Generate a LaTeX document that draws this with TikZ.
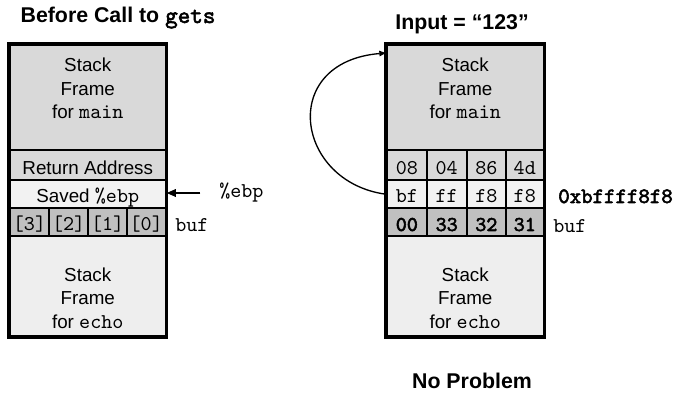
\documentclass[tikz,border=0pt]{standalone}
\usepackage{fontspec}
\setmainfont{Liberation Sans}
\setmonofont{lmmono10-regular}[Extension=.otf,Scale=1.12,BoldFont=lmmono10-regular,BoldFeatures={FakeBold=2.5}]
\newfontfamily\boldmono{lmmono10-regular}[Extension=.otf,Scale=1.12,FakeBold=2.5]
\usetikzlibrary{arrows.meta,fit}

\definecolor{mainfill}{RGB}{217,217,217}
\definecolor{lightfill}{RGB}{242,242,242}
\definecolor{buffill}{RGB}{192,192,192}
\definecolor{echofill}{RGB}{238,238,238}

\begin{document}
\begin{tikzpicture}[x=0.75pt,y=-0.75pt,
  box/.style={draw, line width=1.5pt, inner sep=0pt},
  celltext/.style={font=\fontsize{14.1}{17.6}\selectfont\ttfamily, inner sep=0pt, anchor=base},
  boldcell/.style={font=\fontsize{14.1}{17.6}\selectfont\boldmono, inner sep=0pt, anchor=base},
  rowtext/.style={font=\fontsize{14.1}{17.6}\selectfont, inner sep=0pt, anchor=base},
  frametext/.style={font=\fontsize{14.1}{17.6}\selectfont, align=center, inner sep=0pt},
  outer/.style={draw, line width=2.3pt},
  title/.style={font=\fontsize{16}{19}\selectfont\bfseries, inner sep=0pt},
  monolabel/.style={font=\fontsize{14.1}{17.6}\selectfont\ttfamily, inner sep=0pt},
  ptr/.style={line width=1.6pt, -{Triangle[length=7pt,width=5.5pt]}},
  looparrow/.style={line width=1pt, -{Triangle[length=5pt,width=4pt]}}]
\useasboundingbox (0,0) rectangle (675,395);

% ---- stack before the call ----
\node[box, fill=mainfill, fit={(10,45) (165.5,150.5)}] (lmain) {};
\node[box, fill=mainfill, fit={(10,150.5) (165.5,180)}] (lret) {};
\node[box, fill=lightfill, fit={(10,180) (165.5,208.5)}] (lsaved) {};
\foreach \xa/\xb [count=\i] in {10/49, 49/88.3, 88.3/127, 127/165.5}
  \node[box, fill=buffill, fit={(\xa,208.5) (\xb,236.5)}] (lbuf\i) {};
\node[box, fill=echofill, fit={(10,236.5) (165.5,336.5)}] (lecho) {};
\draw[outer] (lmain.north west) rectangle (lecho.south east);

\node[rowtext] (lrettxt) at (87.75,175) {Return Address};
\node[rowtext] (lsavedtxt) at (87.75,203) {Saved \texttt{\%ebp}};
\foreach \t [count=\i] in {3,2,1,0}
  \node[celltext] (lbuftxt\i) at (lbuf\i.center |- 0,230.5) {[\t]};

\node[frametext] (lmaintxt) at (87.75,88.5) {Stack\\Frame\\for \texttt{main}};
\node[frametext] (lechotxt) at (87.75,298) {Stack\\Frame\\for \texttt{echo}};

\node[monolabel, anchor=base west] (lbuflbl) at (175,232) {buf};
\node[monolabel, anchor=west] (ebplbl) at (219,193) {\%ebp};
\draw[ptr, shorten <=14pt] (ebplbl.west) -- (ebplbl.west -| lsaved.east);

\node[title] (t1) at (118,18) {Before Call to {\boldmono gets}};

% ---- stack after reading the input ----
\node[box, fill=mainfill, fit={(387,45) (543.5,150.5)}] (rmain) {};
\foreach \xa/\xb [count=\i] in {387/426.7, 426.7/466.7, 466.7/506, 506/543.5} {
  \node[box, fill=mainfill, fit={(\xa,150.5) (\xb,180)}] (ra\i) {};
  \node[box, fill=lightfill, fit={(\xa,180) (\xb,208.5)}] (rb\i) {};
  \node[box, fill=buffill, fit={(\xa,208.5) (\xb,236.5)}] (rc\i) {};
}
\node[box, fill=echofill, fit={(387,236.5) (543.5,336.5)}] (recho) {};
\draw[outer] (rmain.north west) rectangle (recho.south east);

\foreach \t [count=\i] in {08,04,86,4d}
  \node[celltext] (ratxt\i) at (ra\i.center |- 0,175) {\t};
\foreach \t [count=\i] in {bf,ff,f8,f8}
  \node[celltext] (rbtxt\i) at (rb\i.center |- 0,203) {\t};
\foreach \t [count=\i] in {00,33,32,31}
  \node[boldcell] (rctxt\i) at (rc\i.center |- 0,231) {\t};

\node[frametext] (rmaintxt) at (465.25,88.5) {Stack\\Frame\\for \texttt{main}};
\node[frametext] (rechotxt) at (465.25,298) {Stack\\Frame\\for \texttt{echo}};

\node[monolabel, anchor=base west, font=\fontsize{14.6}{18}\selectfont\boldmono] (addr) at (558,203) {0xbffff8f8};
\node[monolabel, anchor=base west] (rbuflbl) at (553,232.5) {buf};

\coordinate (rin) at (386,53);
\draw[looparrow] (rb1.west) .. controls (295,182) and (278,62) .. (rin);

\node[title] (t2) at (462,24) {Input = “123”};
\node[title] (t3) at (472,381) {No Problem};
\end{tikzpicture}
\end{document}
